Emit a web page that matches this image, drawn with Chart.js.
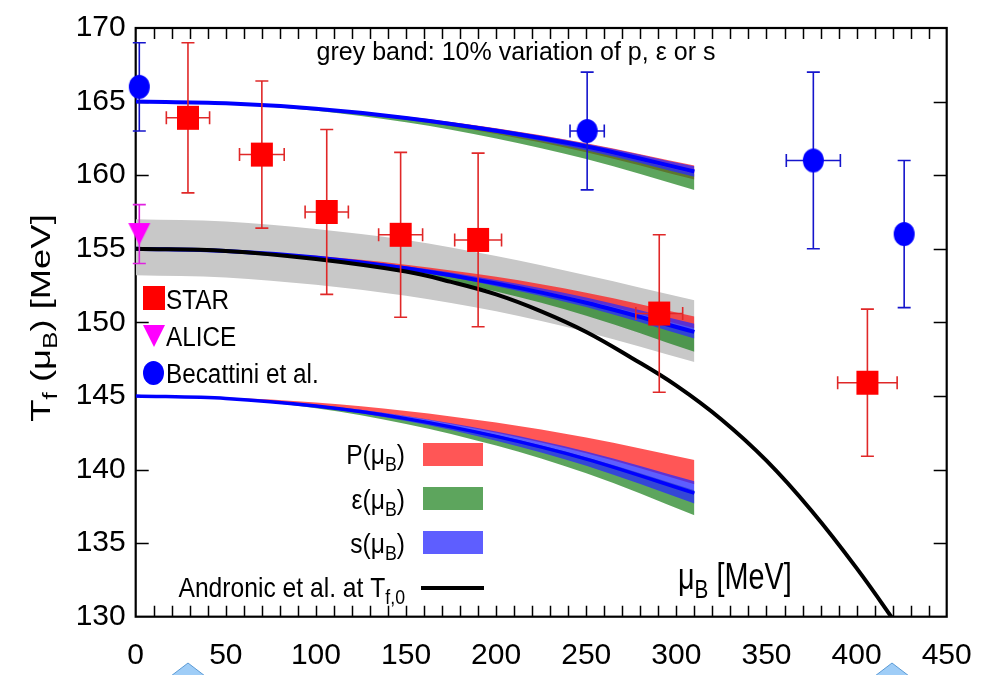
<!DOCTYPE html>
<html><head><meta charset="utf-8">
<script src="https://cdn.jsdelivr.net/npm/chart.js@4/dist/chart.umd.min.js"></script>
<style>html,body{margin:0;padding:0;background:#fff;}#wrap{width:996px;height:675px;}</style>
</head><body><div id="wrap"><canvas id="c" width="996" height="675"></canvas></div>
<script>
// ---------- data ----------
const MU = [0, 50, 100, 150, 200, 250, 310];
// upper group, T0 = 165
const TOP_S_LINE = [165, 164.88, 164.51, 163.89, 163.02, 161.95, 160.25];
const TOP_P_HI = [165, 164.89, 164.55, 163.98, 163.19, 162.17, 160.65];
const TOP_P_LO = [165, 164.86, 164.45, 163.76, 162.80, 161.56, 159.70];
const TOP_E_HI = [165, 164.87, 164.49, 163.85, 162.96, 161.82, 160.10];
const TOP_E_LO = [165, 164.84, 164.38, 163.60, 162.50, 161.10, 159.00];
const TOP_S_HI = [165, 164.89, 164.54, 163.97, 163.17, 162.14, 160.60];
const TOP_S_LO = [165, 164.87, 164.47, 163.81, 162.88, 161.69, 159.90];
// middle group, T0 = 155
const MID_S_LINE = [155, 154.85, 154.41, 153.68, 152.65, 151.33, 149.35];
const MID_P_HI = [155, 154.88, 154.52, 153.92, 153.09, 152.01, 150.40];
const MID_P_LO = [155, 154.86, 154.44, 153.74, 152.75, 151.49, 149.60];
const MID_E_HI = [155, 154.85, 154.41, 153.67, 152.63, 151.30, 149.30];
const MID_E_LO = [155, 154.82, 154.27, 153.36, 152.09, 150.45, 148.00];
const MID_S_HI = [155, 154.87, 154.47, 153.81, 152.88, 151.69, 149.90];
const MID_S_LO = [155, 154.84, 154.37, 153.57, 152.46, 151.04, 148.90];
const GREY_HI = [157.0, 156.85, 156.35, 155.6, 154.5, 153.2, 151.5];
const GREY_LO = [153.2, 153.05, 152.55, 151.8, 150.75, 149.35, 147.3];
// lower group, T0 = 145
const BOT_S_LINE = [145, 144.83, 144.31, 143.46, 142.25, 140.71, 138.40];
const BOT_P_HI = [145, 144.89, 144.55, 143.98, 143.19, 142.17, 140.65];
const BOT_P_LO = [145, 144.84, 144.38, 143.60, 142.50, 141.10, 139.00];
const BOT_E_HI = [145, 144.83, 144.33, 143.50, 142.34, 140.84, 138.60];
const BOT_E_LO = [145, 144.79, 144.16, 143.10, 141.63, 139.74, 136.90];
const BOT_S_HI = [145, 144.85, 144.40, 143.64, 142.59, 141.23, 139.20];
const BOT_S_LO = [145, 144.81, 144.24, 143.29, 141.96, 140.26, 137.70];
// Andronic et al. at T_f,0
const AND_MU = [0, 50, 100, 150, 175, 200, 225, 250, 275, 300, 325, 350, 375, 400, 425];
const AND_T = [155, 154.85, 154.3, 153.45, 152.75, 151.9, 150.75, 149.35, 147.6, 145.7, 143.4, 140.6, 137.2, 133.3, 129.0];
// STAR
const STAR_MU = [29, 70, 106, 147, 190, 290.5, 406];
const STAR_T = [163.9, 161.4, 157.5, 155.95, 155.6, 150.6, 145.9];
const STAR_DT = [5.1, 5.0, 5.6, 5.6, 5.9, 5.35, 5.0];
const STAR_DMU = [12, 12.4, 12, 12.2, 13, 13, 16.5];
// ALICE
const ALICE_MU = [2];
const ALICE_T = [156];
const ALICE_DT = [2];
const ALICE_DMU = [0];
// Becattini et al.
const BEC_MU = [2, 250.5, 376, 426.4];
const BEC_T = [166, 163, 161, 156];
const BEC_DT = [3, 4, 6, 5];
const BEC_DMU = [2.5, 9.5, 15, 0];
// axis ticks
const X_MIN = 0, X_MAX = 450, X_LABEL_STEP = 50, X_MINOR_STEP = 10;
const Y_MIN = 130, Y_MAX = 170, Y_STEP = 5;

// ---------- styling ----------
const FONT = '"Liberation Sans", Arial, sans-serif';
const C_P = 'rgba(255,30,30,0.75)';
const C_E = 'rgba(30,130,30,0.72)';
const C_S = 'rgba(40,40,255,0.75)';
const C_GREY = 'rgb(200,200,200)';

function pts(xs, ys) { return xs.map((x, i) => ({x: x, y: ys[i]})); }
function marker(shape, w, h, color) {
  const c = document.createElement('canvas');
  c.width = w + 2; c.height = h + 2;
  const g = c.getContext('2d');
  g.fillStyle = color;
  g.beginPath();
  if (shape === 'rect') g.rect(1, 1, w, h);
  else if (shape === 'circle') g.ellipse(1 + w / 2, 1 + h / 2, w / 2, h / 2, 0, 0, Math.PI * 2);
  else { g.moveTo(1, 1); g.lineTo(1 + w, 1); g.lineTo(1 + w / 2, 1 + h); g.closePath(); }
  g.fill();
  return c;
}
const M_STAR = marker('rect', 22, 24, '#ff0000');
const M_ALICE = marker('tri', 22, 22, '#ff00ff');
const M_BEC = marker('circle', 21, 24, '#0000ff');

function band(hi, lo, color, order) {
  return [
    {type: 'line', data: pts(MU, hi), borderColor: 'rgba(0,0,0,0)', borderWidth: 0, pointRadius: 0,
     backgroundColor: color, fill: '+1', order: order, cubicInterpolationMode: 'monotone'},
    {type: 'line', data: pts(MU, lo), borderColor: 'rgba(0,0,0,0)', borderWidth: 0, pointRadius: 0,
     fill: false, order: order, cubicInterpolationMode: 'monotone'}
  ];
}
function curve(xs, ys, color, w, order) {
  return {type: 'line', data: pts(xs, ys), borderColor: color, borderWidth: w, pointRadius: 0,
          fill: false, order: order, cubicInterpolationMode: 'monotone'};
}
function points(xs, ys, dx, dy, img, barColor, order) {
  return {type: 'scatter', data: pts(xs, ys), pointStyle: img, pointRadius: 12, clip: false,
          order: order, errX: dx, errY: dy, barColor: barColor};
}

const andronic = curve(AND_MU, AND_T, '#000000', 4, 20);
andronic.cubicInterpolationMode = 'default';
andronic.tension = 0.4;

const datasets = [
  points(STAR_MU, STAR_T, STAR_DMU, STAR_DT, M_STAR, '#e02828', 1),
  points(ALICE_MU, ALICE_T, ALICE_DMU, ALICE_DT, M_ALICE, '#e020e0', 2),
  points(BEC_MU, BEC_T, BEC_DMU, BEC_DT, M_BEC, '#1515cc', 3),
  andronic,
  curve(MU, TOP_S_LINE, '#0000ff', 4, 30),
  curve(MU, MID_S_LINE, '#0000ff', 4, 30),
  curve(MU, BOT_S_LINE, '#0000ff', 3.5, 30),
  ...band(TOP_S_HI, TOP_S_LO, C_S, 40),
  ...band(MID_S_HI, MID_S_LO, C_S, 40),
  ...band(BOT_S_HI, BOT_S_LO, C_S, 40),
  ...band(TOP_E_HI, TOP_E_LO, C_E, 50),
  ...band(MID_E_HI, MID_E_LO, C_E, 50),
  ...band(BOT_E_HI, BOT_E_LO, C_E, 50),
  ...band(TOP_P_HI, TOP_P_LO, C_P, 60),
  ...band(MID_P_HI, MID_P_LO, C_P, 60),
  ...band(BOT_P_HI, BOT_P_LO, C_P, 60),
  ...band(GREY_HI, GREY_LO, C_GREY, 70)
];

function rich(ctx, parts, x, y, size, align, sx) {
  sx = sx || 1;
  let w = 0;
  parts.forEach(([t, s]) => { ctx.font = (s ? size * 0.72 : size) + 'px ' + FONT; w += ctx.measureText(t).width; });
  ctx.save();
  ctx.translate(x, y); ctx.scale(sx, 1);
  let cx = align === 'right' ? -w : (align === 'center' ? -w / 2 : 0);
  ctx.textAlign = 'left'; ctx.textBaseline = 'alphabetic'; ctx.fillStyle = '#000';
  parts.forEach(([t, s]) => {
    ctx.font = (s ? size * 0.72 : size) + 'px ' + FONT;
    ctx.fillText(t, cx, s ? size * 0.24 : 0);
    cx += ctx.measureText(t).width;
  });
  ctx.restore();
}

const frame = {
  id: 'frame',
  beforeDatasetsDraw(chart) {
    const {ctx, chartArea: a, scales: {x, y}} = chart;
    ctx.save();
    ctx.strokeStyle = '#000'; ctx.lineWidth = 1.5;
    ctx.beginPath();
    for (let v = X_MIN + X_MINOR_STEP; v < X_MAX; v += X_MINOR_STEP) {
      const px = Math.round(x.getPixelForValue(v)) + 0.5;
      ctx.moveTo(px, a.bottom); ctx.lineTo(px, a.bottom - 11);
      ctx.moveTo(px, a.top); ctx.lineTo(px, a.top + 11);
    }
    for (let v = Y_MIN + Y_STEP; v < Y_MAX; v += Y_STEP) {
      const py = Math.round(y.getPixelForValue(v)) + 0.5;
      ctx.moveTo(a.left, py); ctx.lineTo(a.left + 13, py);
      ctx.moveTo(a.right, py); ctx.lineTo(a.right - 13, py);
    }
    ctx.stroke();
    ctx.lineWidth = 2.2;
    ctx.strokeRect(a.left, a.top, a.right - a.left, a.bottom - a.top);
    ctx.restore();
  },
  beforeDatasetDraw(chart, args) {
    const ds = chart.data.datasets[args.index];
    if (!ds.errY) return;
    const {ctx, scales: {x, y}} = chart;
    ctx.save();
    ctx.strokeStyle = ds.barColor; ctx.lineWidth = 1.6;
    ctx.beginPath();
    ds.data.forEach((p, i) => {
      const px = x.getPixelForValue(p.x), py = y.getPixelForValue(p.y);
      const y1 = y.getPixelForValue(p.y + ds.errY[i]), y2 = y.getPixelForValue(p.y - ds.errY[i]);
      ctx.moveTo(px, y1); ctx.lineTo(px, y2);
      ctx.moveTo(px - 6.5, y1); ctx.lineTo(px + 6.5, y1);
      ctx.moveTo(px - 6.5, y2); ctx.lineTo(px + 6.5, y2);
      if (ds.errX[i] > 0) {
        const x1 = x.getPixelForValue(p.x - ds.errX[i]), x2 = x.getPixelForValue(p.x + ds.errX[i]);
        ctx.moveTo(x1, py); ctx.lineTo(x2, py);
        ctx.moveTo(x1, py - 6.5); ctx.lineTo(x1, py + 6.5);
        ctx.moveTo(x2, py - 6.5); ctx.lineTo(x2, py + 6.5);
      }
    });
    ctx.stroke();
    ctx.restore();
  },
  afterDraw(chart) {
    const ctx = chart.ctx;
    ctx.save();
    // annotation
    rich(ctx, [['grey band: 10% variation of p, \u03b5 or s', 0]], 516, 59.5, 25, 'center');
    // left legend
    ctx.drawImage(M_STAR, 142, 285);
    rich(ctx, [['STAR', 0]], 166, 309, 27, 'left', 0.9);
    ctx.drawImage(M_ALICE, 142, 324);
    rich(ctx, [['ALICE', 0]], 166, 346, 27, 'left', 0.9);
    ctx.drawImage(M_BEC, 142, 360);
    rich(ctx, [['Becattini et al.', 0]], 166, 383, 27, 'left', 0.9);
    // band legend
    rich(ctx, [['P(\u03bc', 0], ['B', 1], [')', 0]], 405, 464, 28, 'right', 0.88);
    rich(ctx, [['\u03b5(\u03bc', 0], ['B', 1], [')', 0]], 405, 509, 28, 'right', 0.88);
    rich(ctx, [['s(\u03bc', 0], ['B', 1], [')', 0]], 405, 553, 28, 'right', 0.88);
    rich(ctx, [['Andronic et al. at T', 0], ['f,0', 1]], 405, 597, 28, 'right', 0.88);
    ctx.fillStyle = C_P; ctx.fillRect(423, 443, 60, 23);
    ctx.fillStyle = C_E; ctx.fillRect(423, 487, 60, 23);
    ctx.fillStyle = C_S; ctx.fillRect(423, 531, 60, 23);
    ctx.strokeStyle = '#000'; ctx.lineWidth = 4;
    ctx.beginPath(); ctx.moveTo(421, 588); ctx.lineTo(484, 588); ctx.stroke();
    // x-axis title
    rich(ctx, [['\u03bc', 0], ['B', 1], [' [MeV]', 0]], 678, 589, 36, 'left', 0.8);
    // y-axis title (rotated)
    ctx.save();
    ctx.translate(40, 318); ctx.rotate(-Math.PI / 2);
    rich(ctx, [['T', 0], ['f', 1], [' (\u03bc', 0], ['B', 1], [') [MeV]', 0]], 0, 10, 28, 'center', 1.3);
    ctx.restore();
    // decorative light-blue shapes at the bottom edge
    [[188, 663], [892, 663]].forEach(([cx, ty]) => {
      ctx.fillStyle = '#9fcdf7'; ctx.strokeStyle = '#5b9bd5'; ctx.lineWidth = 1;
      ctx.beginPath(); ctx.moveTo(cx, ty); ctx.lineTo(cx + 17, 676); ctx.lineTo(cx - 17, 676); ctx.closePath();
      ctx.fill(); ctx.stroke();
    });
    ctx.restore();
  }
};

new Chart(document.getElementById('c'), {
  type: 'line',
  data: {datasets: datasets},
  options: {
    responsive: false, animation: false, devicePixelRatio: 1,
    layout: {padding: {top: 24, right: 49.3, left: 0, bottom: 0}},
    plugins: {legend: {display: false}, tooltip: {enabled: false}, filler: {propagate: false}},
    scales: {
      x: {type: 'linear', min: X_MIN, max: X_MAX,
          grid: {display: false, drawTicks: false}, border: {display: false},
          ticks: {stepSize: X_LABEL_STEP, autoSkip: false, maxRotation: 0, padding: 21, color: '#000',
                  font: {family: FONT, size: 30}},
          afterFit(s) { s.height = 58.3; }},
      y: {type: 'linear', min: Y_MIN, max: Y_MAX,
          grid: {display: false, drawTicks: false}, border: {display: false},
          ticks: {stepSize: Y_STEP, padding: 10, color: '#000', font: {family: FONT, size: 30}},
          afterFit(s) { s.width = 135.7; }}
    }
  },
  plugins: [frame]
});
</script></body></html>
